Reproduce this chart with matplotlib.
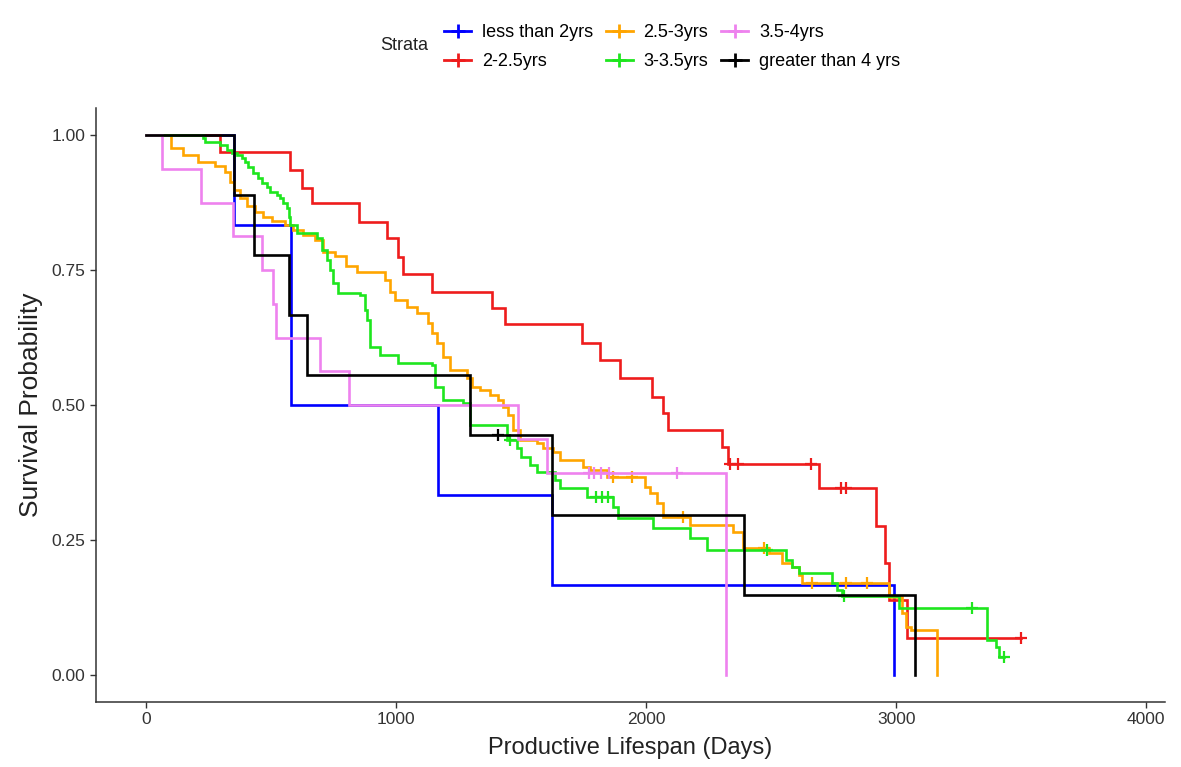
import numpy as np
import matplotlib
matplotlib.use("Agg")
import matplotlib.pyplot as plt
from matplotlib.lines import Line2D

plt.rcParams['font.family'] = ['Liberation Sans', 'DejaVu Sans']

# ---------------- data ----------------
strata_labels = ["less than 2yrs", "2-2.5yrs", "2.5-3yrs", "3-3.5yrs", "3.5-4yrs", "greater than 4 yrs"]
strata_colors = ["#0000FF", "#EE1C1C", "#FFA500", "#1EE61E", "#EE82EE", "#000000"]

blue_t = [0, 350, 580, 1167, 1622, 2990]
blue_s = [1, 0.833, 0.5, 0.333, 0.167, 0]
blue_c = []

red_t = [0, 296, 575, 623, 663, 851, 963, 1007, 1027, 1143, 1383, 1435, 1742, 1814, 1894,
         2022, 2066, 2086, 2302, 2326, 2693, 2921, 2957, 2973, 3045]
red_s = [1, 0.969, 0.935, 0.902, 0.874, 0.839, 0.809, 0.774, 0.743, 0.709, 0.680, 0.650, 0.615,
         0.583, 0.550, 0.515, 0.485, 0.454, 0.422, 0.391, 0.346, 0.276, 0.207, 0.139, 0.069]
red_c = [2334, 2366, 2661, 2781, 2801, 3500]

orange_t = [0, 100, 148, 208, 276, 316, 336, 352, 376, 404, 436, 468, 503, 555, 587, 627, 675,
            707, 755, 799, 843, 955, 975, 995, 1043, 1083, 1127, 1143, 1163, 1187, 1215, 1283,
            1303, 1335, 1375, 1407, 1427, 1447, 1467, 1495, 1562, 1586, 1626, 1654, 1746, 1774,
            1842, 1994, 2014, 2042, 2066, 2174, 2346, 2386, 2490, 2545, 2585, 2613, 2625, 2973,
            3025, 3041, 3061, 3165]
orange_s = [1, 0.976, 0.963, 0.950, 0.943, 0.931, 0.913, 0.898, 0.883, 0.869, 0.857, 0.848,
            0.841, 0.833, 0.824, 0.815, 0.806, 0.783, 0.776, 0.757, 0.746, 0.731, 0.709, 0.694,
            0.681, 0.670, 0.652, 0.633, 0.615, 0.589, 0.565, 0.550, 0.533, 0.528, 0.519, 0.509,
            0.496, 0.481, 0.454, 0.435, 0.430, 0.420, 0.413, 0.398, 0.385, 0.380, 0.367, 0.348,
            0.337, 0.319, 0.293, 0.278, 0.265, 0.235, 0.226, 0.207, 0.200, 0.185, 0.170, 0.144,
            0.115, 0.089, 0.083, 0]
orange_c = [1866, 1942, 2146, 2470, 2665, 2801, 2885]

green_t = [0, 228, 236, 296, 324, 344, 364, 384, 396, 408, 428, 448, 464, 484, 496, 523, 535,
           547, 563, 571, 575, 603, 683, 703, 723, 735, 747, 767, 855, 875, 883, 895, 935, 1007,
           1143, 1155, 1187, 1267, 1295, 1443, 1483, 1499, 1534, 1562, 1634, 1654, 1762, 1866,
           1886, 2026, 2174, 2242, 2561, 2585, 2613, 2745, 2765, 2785, 3013, 3365, 3401, 3413]
green_s = [1, 0.994, 0.987, 0.981, 0.972, 0.967, 0.963, 0.957, 0.950, 0.941, 0.930, 0.920, 0.911,
           0.904, 0.894, 0.889, 0.883, 0.874, 0.865, 0.848, 0.833, 0.819, 0.809, 0.787, 0.769,
           0.750, 0.726, 0.707, 0.704, 0.676, 0.657, 0.607, 0.593, 0.578, 0.574, 0.533, 0.509,
           0.504, 0.463, 0.435, 0.420, 0.404, 0.389, 0.376, 0.361, 0.346, 0.330, 0.311, 0.291,
           0.272, 0.254, 0.231, 0.213, 0.200, 0.189, 0.170, 0.157, 0.146, 0.124, 0.065, 0.052,
           0.033]
green_c = [1455, 1798, 1822, 1846, 2485, 2793, 3305, 3433]

violet_t = [0, 64, 220, 348, 463, 508, 520, 695, 811, 1487, 1602, 2318]
violet_s = [1, 0.9375, 0.875, 0.8125, 0.75, 0.6875, 0.625, 0.5625, 0.5, 0.4375, 0.375, 0]
violet_c = [1770, 1790, 1820, 1850, 2125]

black_t = [0, 350, 432, 573, 645, 1295, 1622, 2390, 3077]
black_s = [1, 0.889, 0.778, 0.667, 0.556, 0.444, 0.296, 0.148, 0]
black_c = [1406]

x_ticks = [0, 1000, 2000, 3000, 4000]
y_ticks = [0.0, 0.25, 0.5, 0.75, 1.0]
y_ticklabels = ["0.00", "0.25", "0.50", "0.75", "1.00"]

series = [
    (blue_t, blue_s, blue_c),
    (red_t, red_s, red_c),
    (orange_t, orange_s, orange_c),
    (green_t, green_s, green_c),
    (violet_t, violet_s, violet_c),
    (black_t, black_s, black_c),
]

# ---------------- figure ----------------
W, H = 1181, 767
fig = plt.figure(figsize=(W / 100, H / 100), dpi=100)
ax = fig.add_axes([96 / W, 1 - 702 / H, (1165 - 96) / W, (702 - 108) / H])

for (t, s, c), col in zip(series, strata_colors):
    t = list(t)
    s = list(s)
    if c and max(c) > t[-1]:
        t.append(max(c))
        s.append(s[-1])
    ax.step(t, s, where="post", color=col, lw=1.9, solid_joinstyle="miter")
    if c:
        ta = np.array(t)
        idx = np.searchsorted(ta, np.array(c), side="right") - 1
        cy = np.array(s)[idx]
        ax.plot(c, cy, linestyle="none", marker="+", color=col, markersize=9, mew=1.6)

ax.set_xlim(-200, 4075)
ax.set_ylim(-0.05, 1.05)
ax.set_xticks(x_ticks)
ax.set_yticks(y_ticks)
ax.set_yticklabels(y_ticklabels)
ax.tick_params(axis="both", labelsize=12.5, labelcolor="#333333", color="#333333",
               length=4, width=1, direction="out")
for side in ["top", "right"]:
    ax.spines[side].set_visible(False)
for side in ["left", "bottom"]:
    ax.spines[side].set_color("#333333")
    ax.spines[side].set_linewidth(1.1)

ax.set_xlabel("Productive Lifespan (Days)", fontsize=17, color="#222222", labelpad=7)
ax.set_ylabel("Survival Probability", fontsize=19, color="#222222", labelpad=6)

# legend
handles = [Line2D([0], [0], color=c, lw=2, marker="+", markersize=10, mew=2) for c in strata_colors]
fig.legend(handles, strata_labels, ncol=3, loc="center", bbox_to_anchor=(672 / W, 1 - 47 / H),
           frameon=False, fontsize=13, handlelength=1.5, handletextpad=0.6,
           columnspacing=0.7, labelspacing=0.65)
fig.text(380 / W, 1 - 46 / H, "Strata", fontsize=13, va="center", ha="left", color="#222222")

fig.savefig("out.png", dpi=100)
